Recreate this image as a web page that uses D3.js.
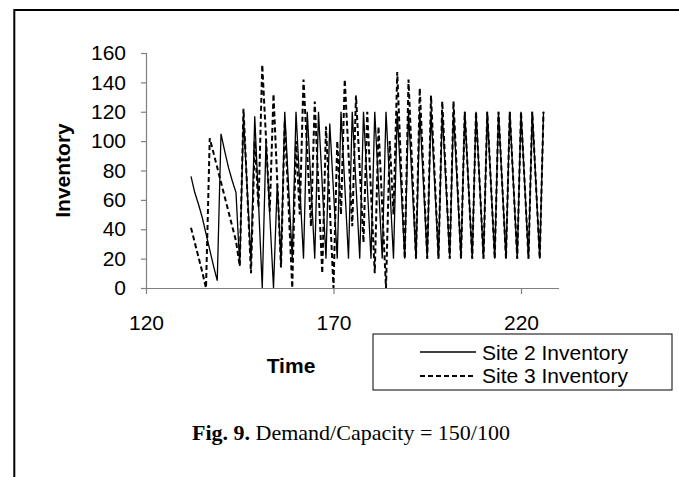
<!DOCTYPE html>
<html>
<head>
<meta charset="utf-8">
<script src="https://cdn.jsdelivr.net/npm/d3@7"></script>
<style>
  body { margin: 0; background: #ffffff; }
  svg { display: block; }
</style>
</head>
<body>
<div id="chart"></div>
<script>

// Site 2 inventory (solid)
var site2_time = [132, 133, 134, 135, 136, 137, 138, 139, 140, 141, 142, 143, 144, 145, 146, 148, 149, 151, 152, 154, 155, 156,
    157, 159, 160, 162, 163, 165, 166, 168, 169, 171, 172, 174, 175, 177, 178, 180, 181, 183, 184, 186, 187, 189, 190,
    192, 193, 195, 196, 198, 199, 201, 202, 204, 205, 207, 208, 210, 211, 213, 214, 216, 217, 219, 220, 222, 223, 225, 226];
var site2_inv = [76, 65, 57, 48, 37, 26, 15, 5, 105, 93, 82, 73, 65, 15, 116, 18, 117, 0, 100, 0, 71, 18,
    120, 20, 120, 20, 120, 20, 120, 20, 112, 20, 120, 20, 120, 20, 120, 20, 120, 20, 120, 20, 120, 20, 120,
    20, 120, 20, 120, 20, 120, 20, 120, 20, 120, 20, 120, 20, 120, 20, 120, 20, 120, 20, 120, 20, 120, 20, 120];

// Site 3 inventory (dashed)
var site3_time = [132, 133, 134, 135, 136, 137, 138, 139, 140, 141, 142, 143, 144, 145, 146, 148, 149, 150, 151, 152, 153,
    154, 155, 156, 157, 158, 159, 160, 161, 162, 163, 164, 165, 166, 167, 168, 169, 170, 171, 172, 173, 174, 175, 176,
    177, 178, 179, 180, 181, 182, 183, 184, 185, 186, 187, 189, 190, 192, 193, 195, 196, 198, 199, 201, 202, 204, 205,
    207, 208, 210, 211, 213, 214, 216, 217, 219, 220, 222, 223, 225, 226];
var site3_inv = [41, 31, 21, 11, 0, 102, 92, 82, 72, 62, 52, 42, 32, 15, 122, 10, 100, 55, 152, 102, 52,
    132, 73, 14, 114, 57, 0, 100, 50, 142, 92, 42, 127, 68, 10, 110, 55, 0, 100, 50, 142, 92, 42, 131,
    81, 31, 120, 65, 10, 110, 55, 0, 100, 50, 147, 20, 142, 20, 136, 20, 131, 20, 127, 20, 127, 20, 120,
    20, 120, 20, 120, 20, 120, 20, 120, 20, 120, 20, 120, 20, 120];

var y_ticks = [0, 20, 40, 60, 80, 100, 120, 140, 160];
var x_ticks = [120, 170, 220];
var legend_names = ['Site 2 Inventory', 'Site 3 Inventory'];

var width = 679;
var height = 477;

var svg = d3.select('#chart')
  .append('svg')
    .attr('width', width)
    .attr('height', height);

svg.append('rect')
    .attr('width', width)
    .attr('height', height)
    .attr('fill', '#ffffff');

// figure frame (left and top edge only are visible)
svg.append('path')
    .attr('d', 'M14.3,' + height + 'V10H' + width)
    .attr('fill', 'none')
    .attr('stroke', '#000000')
    .attr('stroke-width', 2);

var x = d3.scaleLinear().domain([120, 230]).range([146, 558.5]);
var y = d3.scaleLinear().domain([0, 160]).range([288, 53]);

var axis_color = '#808080';
var sans = 'Arial, "Liberation Sans", sans-serif';
var dash = '5,3';

// y axis
var y_axis = svg.append('g')
    .attr('transform', 'translate(' + x(120) + ',0)')
    .call(d3.axisLeft(y).tickValues(y_ticks).tickSize(5).tickPadding(15).tickFormat(d3.format('d')));
y_axis.select('.domain').attr('stroke', axis_color).attr('stroke-width', 1.2);
y_axis.selectAll('.tick line').attr('stroke', axis_color).attr('stroke-width', 1.2);
y_axis.selectAll('.tick text')
    .attr('fill', '#000000')
    .attr('font-family', sans)
    .attr('font-size', '21px');

// x axis
var x_axis = svg.append('g')
    .attr('transform', 'translate(0,' + y(0) + ')')
    .call(d3.axisBottom(x).tickValues(x_ticks).tickSize(6).tickSizeOuter(0).tickFormat(d3.format('d')));
x_axis.select('.domain').attr('stroke', axis_color).attr('stroke-width', 1.2);
x_axis.selectAll('.tick line').attr('stroke', axis_color).attr('stroke-width', 1.2);
x_axis.selectAll('.tick text')
    .attr('fill', '#000000')
    .attr('font-family', sans)
    .attr('font-size', '21px')
    .attr('y', 41.5)
    .attr('dy', null);

// data lines
var line = d3.line()
    .x(function(d) { return x(d[0]); })
    .y(function(d) { return y(d[1]); });

var site2 = d3.zip(site2_time, site2_inv);
var site3 = d3.zip(site3_time, site3_inv);

svg.append('path')
    .datum(site2)
    .attr('d', line)
    .attr('fill', 'none')
    .attr('stroke', '#000000')
    .attr('stroke-width', 1.3);

svg.append('path')
    .datum(site3)
    .attr('d', line)
    .attr('fill', 'none')
    .attr('stroke', '#000000')
    .attr('stroke-width', 2)
    .attr('stroke-dasharray', dash);

// axis titles
svg.append('text')
    .text('Inventory')
    .attr('font-family', sans)
    .attr('font-weight', 'bold')
    .attr('font-size', '21px')
    .style('text-anchor', 'middle')
    .attr('transform', 'translate(70,170.5) rotate(-90)');

svg.append('text')
    .text('Time')
    .attr('font-family', sans)
    .attr('font-weight', 'bold')
    .attr('font-size', '21px')
    .style('text-anchor', 'middle')
    .attr('x', 291)
    .attr('y', 372.5);

// legend
var legend = svg.append('g');
legend.append('rect')
    .attr('x', 373)
    .attr('y', 334)
    .attr('width', 299)
    .attr('height', 56)
    .attr('fill', '#ffffff')
    .attr('stroke', '#000000')
    .attr('stroke-width', 1);

legend.selectAll('line.legend')
    .data(legend_names)
  .enter()
    .append('line')
    .attr('class', 'legend')
    .attr('x1', 420)
    .attr('x2', 476)
    .attr('y1', function(d, i) { return 352 + i * 24; })
    .attr('y2', function(d, i) { return 352 + i * 24; })
    .attr('stroke', '#000000')
    .attr('stroke-width', function(d, i) { return i == 0 ? 1.3 : 2; })
    .attr('stroke-dasharray', function(d, i) { return i == 0 ? null : dash; });

legend.selectAll('text.legend')
    .data(legend_names)
  .enter()
    .append('text')
    .attr('class', 'legend')
    .text(function(d) { return d; })
    .attr('font-family', sans)
    .attr('font-size', '21px')
    .attr('x', 482)
    .attr('y', function(d, i) { return 359.5 + i * 23; });

// caption
var caption = svg.append('text')
    .attr('font-family', '"Times New Roman", "Liberation Serif", serif')
    .attr('font-size', '22px')
    .style('text-anchor', 'middle')
    .attr('x', 351)
    .attr('y', 440);
caption.append('tspan').attr('font-weight', 'bold').text('Fig. 9.');
caption.append('tspan').text(' Demand/Capacity = 150/100');

</script>
</body>
</html>
